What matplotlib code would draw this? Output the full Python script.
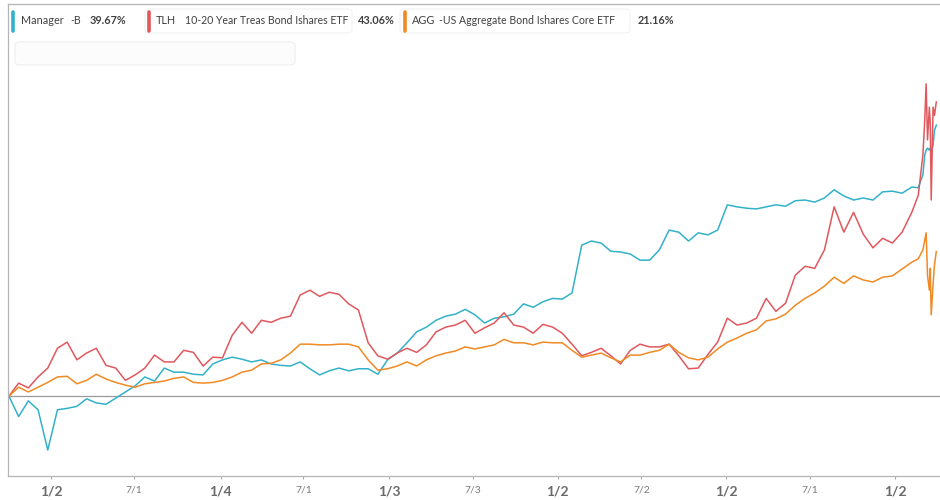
import numpy as np
import pandas as pd
import matplotlib
matplotlib.use('Agg')
import matplotlib.pyplot as plt
from matplotlib.lines import Line2D
from matplotlib.patches import FancyBboxPatch

plt.rcParams['font.family'] = ['Lato', 'DejaVu Sans']

# ---- data: cumulative return (%) ----
# three-weekly samples Oct 2014 - Feb 2020, then the March 2020 swings
base_dates = pd.date_range('2014-10-03', periods=94, freq='21D')
tail_dates = pd.to_datetime(['2020-02-21', '2020-03-02', '2020-03-06', '2020-03-09',
                             '2020-03-12', '2020-03-16', '2020-03-18', '2020-03-20',
                             '2020-03-24', '2020-03-27', '2020-03-31'])
dates = base_dates.append(tail_dates)

manager_b = [
    0.0, -3.0, -0.7, -2.0, -7.9, -2.0, -1.8, -1.5, -0.4, -1.0,
    -1.2, -0.3, 0.6, 1.5, 2.8, 2.2, 4.1, 3.5, 3.5, 3.2,
    3.1, 4.7, 5.3, 5.7, 5.4, 5.0, 5.3, 4.7, 4.5, 4.4,
    5.0, 4.0, 3.1, 3.7, 4.1, 3.7, 4.0, 4.0, 3.2, 5.3,
    6.3, 7.8, 9.4, 10.1, 11.1, 11.7, 12.0, 12.7, 11.9, 10.7,
    11.4, 11.6, 12.0, 13.5, 13.0, 13.8, 14.3, 14.2, 15.1, 22.1,
    22.7, 22.4, 21.2, 21.1, 20.8, 19.9, 19.9, 21.4, 24.3, 24.0,
    22.7, 23.9, 23.6, 24.3, 28.0, 27.7, 27.5, 27.4, 27.7, 28.0,
    27.8, 28.6, 28.7, 28.4, 29.0, 30.2, 29.3, 28.7, 29.0, 28.7,
    29.9, 30.0, 29.7, 30.6,
    30.5, 32.4, 35.3, 36.0, 36.3, 36.0, 36.3, 35.7, 36.7, 38.9, 39.67]

tlh = [
    0.0, 1.9, 1.2, 2.8, 4.1, 7.0, 7.9, 5.3, 6.3, 7.0,
    4.5, 4.1, 2.3, 3.1, 4.1, 6.0, 5.0, 5.0, 6.7, 6.4,
    4.4, 5.7, 5.6, 8.9, 10.8, 9.2, 11.1, 10.8, 11.4, 11.7,
    14.8, 15.5, 14.6, 15.2, 14.9, 13.5, 12.6, 7.8, 5.9, 5.4,
    6.3, 7.0, 6.4, 7.5, 9.4, 10.1, 10.4, 11.1, 9.2, 10.0,
    10.7, 12.2, 10.4, 10.1, 9.2, 10.5, 10.1, 9.2, 7.6, 5.9,
    6.4, 7.0, 5.9, 4.7, 6.7, 7.6, 7.2, 7.2, 7.6, 5.9,
    4.0, 4.1, 6.1, 7.9, 11.4, 10.4, 10.7, 11.4, 14.3, 12.4,
    13.6, 17.7, 19.0, 18.7, 21.4, 27.7, 24.0, 26.9, 23.7, 21.7,
    23.1, 22.4, 24.0, 26.9,
    29.4, 35.3, 40.4, 45.7, 37.5, 42.3, 39.7, 28.7, 42.3, 41.1, 43.06]

agg = [
    0.0, 1.3, 0.6, 1.3, 2.0, 2.8, 2.9, 1.8, 2.3, 3.2,
    2.5, 2.0, 1.6, 1.3, 1.8, 2.0, 2.2, 2.6, 2.8, 2.0,
    1.9, 2.0, 2.3, 2.8, 3.5, 3.8, 4.7, 4.8, 5.3, 6.3,
    7.6, 7.6, 7.5, 7.5, 7.6, 7.6, 7.2, 5.3, 3.8, 4.0,
    4.4, 5.0, 4.4, 5.3, 5.9, 6.3, 6.6, 7.2, 6.9, 7.2,
    7.5, 8.3, 7.8, 7.8, 7.5, 7.9, 7.8, 7.8, 6.7, 5.7,
    6.0, 6.3, 5.6, 5.0, 6.0, 6.0, 6.4, 6.7, 7.6, 6.4,
    5.6, 5.3, 5.7, 6.9, 7.9, 8.5, 9.2, 9.7, 11.0, 11.3,
    12.0, 13.3, 14.3, 15.1, 16.1, 17.4, 16.5, 17.6, 17.0, 16.7,
    17.4, 17.6, 18.6, 19.6,
    20.1, 21.4, 22.8, 23.9, 17.7, 15.5, 18.7, 11.9, 16.3, 19.2, 21.16]

tick_dates = pd.to_datetime(['2015-01-02', '2015-07-01', '2016-01-04', '2016-07-01',
                             '2017-01-03', '2017-07-03', '2018-01-02', '2018-07-02',
                             '2019-01-02', '2019-07-01', '2020-01-02'])
tick_labels = ['1/2', '7/1', '1/4', '7/1', '1/3', '7/3', '1/2', '7/2', '1/2', '7/1', '1/2']

tickers = ['Manager', 'TLH', 'AGG']
descriptions = ['-B', '10-20 Year Treas Bond Ishares ETF', '-US Aggregate Bond Ishares Core ETF']
finals = ['39.67%', '43.06%', '21.16%']
colors = ['#33b1c9', '#e0585e', '#f08a24']

# ---- figure ----
fig = plt.figure(figsize=(9.4, 5.0), dpi=100)
ax = fig.add_axes([8 / 940, 24 / 500, 932 / 940, 472 / 500])

for vals, c in zip([manager_b, tlh, agg], colors):
    ax.plot(dates, vals, color=c, lw=1.1)

ax.axhline(0, color='#9a9a9a', lw=0.9, zorder=0)

ax.set_xlim(pd.Timestamp('2014-10-01'), pd.Timestamp('2020-04-08'))
ax.set_ylim(-11.7, 57.4)
ax.set_yticks([])

ax.set_xticks(tick_dates)
ax.set_xticklabels(tick_labels)
ax.tick_params(axis='x', length=2.5, width=0.8, color='#aaaaaa', pad=4)
for lab in ax.get_xticklabels():
    if lab.get_text().startswith('1/'):
        lab.set_fontweight('bold')
        lab.set_fontsize(10)
        lab.set_color('#6a6a6a')
    else:
        lab.set_fontsize(7.5)
        lab.set_color('#7a7a7a')

for s in ['left', 'bottom', 'top']:
    ax.spines[s].set_color('#b5b5b5')
    ax.spines[s].set_linewidth(0.9)
ax.spines['right'].set_visible(False)

# ---- legend along the top ----
W, H = 940, 500
bar_x = [13, 149, 405]
ticker_x = [21, 156, 412]
desc_x = [70, 185, 439]
pct_x = [90, 358, 638]
ty = 1 - 21 / H
for i, c in enumerate(colors):
    fig.add_artist(Line2D([bar_x[i] / W, bar_x[i] / W], [1 - 12 / H, 1 - 31 / H], color=c, lw=2.6,
                          solid_capstyle='round', transform=fig.transFigure))
    fig.text(ticker_x[i] / W, ty, tickers[i], fontsize=7.8, color='#404040', va='center', ha='left')
    fig.text(desc_x[i] / W, ty, descriptions[i], fontsize=7.6, color='#404040', va='center', ha='left')
    fig.text(pct_x[i] / W, ty, finals[i], fontsize=7.8, color='#404040', fontweight='bold',
             va='center', ha='left')

# faint boxes behind the legend
for x0, x1 in [(145, 352), (400, 630)]:
    fig.add_artist(FancyBboxPatch((x0 / W, 1 - 33 / H), (x1 - x0) / W, 24 / H,
                                  boxstyle='round,pad=0,rounding_size=0.006',
                                  fc='none', ec='#f2f2f2', lw=0.8, transform=fig.transFigure))
fig.add_artist(FancyBboxPatch((15 / W, 1 - 65 / H), 280 / W, 23 / H,
                              boxstyle='round,pad=0,rounding_size=0.006',
                              fc='#fcfcfc', ec='#eeeeee', lw=0.8, transform=fig.transFigure))

fig.savefig('out.png', dpi=100)
